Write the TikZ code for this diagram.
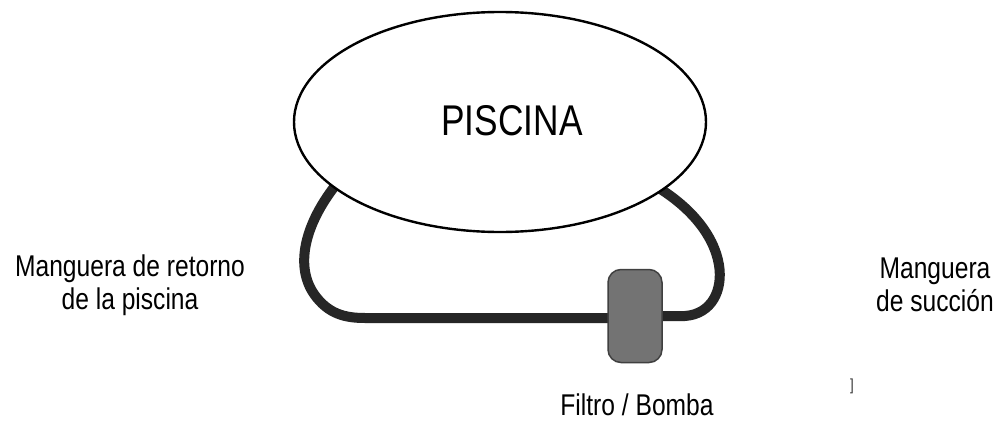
\documentclass[tikz,border=0pt]{standalone}
\usepackage{fontspec}
\setmainfont{Liberation Sans}[FakeStretch=0.82]
\usetikzlibrary{shapes.geometric,backgrounds,calc}
\begin{document}
\begin{tikzpicture}[x=1pt,y=-1pt,
  poolshape/.style={ellipse,draw=black,line width=2.4pt,fill=white,minimum width=412pt,minimum height=220pt,inner sep=0pt},
  hose/.style={line width=10pt,draw=black!85,line cap=butt,line join=round},
  filterbox/.style={rectangle,rounded corners=13pt,draw=black!75,line width=1.5pt,fill=black!55,minimum width=54pt,minimum height=93pt,inner sep=0pt},
  lbl/.style={align=center,font=\fontsize{30}{33}\selectfont,inner sep=0pt}]
\useasboundingbox (0,0) rectangle (1002,423);
\node[poolshape] (pool) at (500,122) {};
\node[font=\fontsize{43}{43}\selectfont,inner sep=0pt] (pooltext) at (512,121) {PISCINA};
\node[filterbox] (filter) at (635,316) {};
\coordinate (retin) at ($(pool.center)!0.9!(pool.199)$);
\coordinate (sucin) at ($(pool.center)!0.9!(pool.338)$);
\begin{pgfonlayer}{background}
\fill[white] (0,0) rectangle (1002,423);
\draw[hose] (retin) .. controls (305,220) and (294,265) .. (314,294)
  .. controls (328,314) and (345,318) .. (365,318) -- (filter.center |- 0,318);
\draw[hose] (filter.center |- 0,316) -- (685,316)
  .. controls (712,314) and (723,290) .. (719,265)
  .. controls (714,235) and (690,205) .. (sucin);
\end{pgfonlayer}
\node[lbl] (retlabel) at (130,285) {Manguera de retorno\\de la piscina};
\node[lbl] (suclabel) at (935,285) {Manguera\\de succión};
\node[lbl,anchor=base] (filtlabel) at (637,415) {Filtro / Bomba};
\node[font=\fontsize{16}{16}\selectfont,inner sep=0pt,anchor=base,text=black!80] (mark) at (852,390) {]};
\end{tikzpicture}
\end{document}
